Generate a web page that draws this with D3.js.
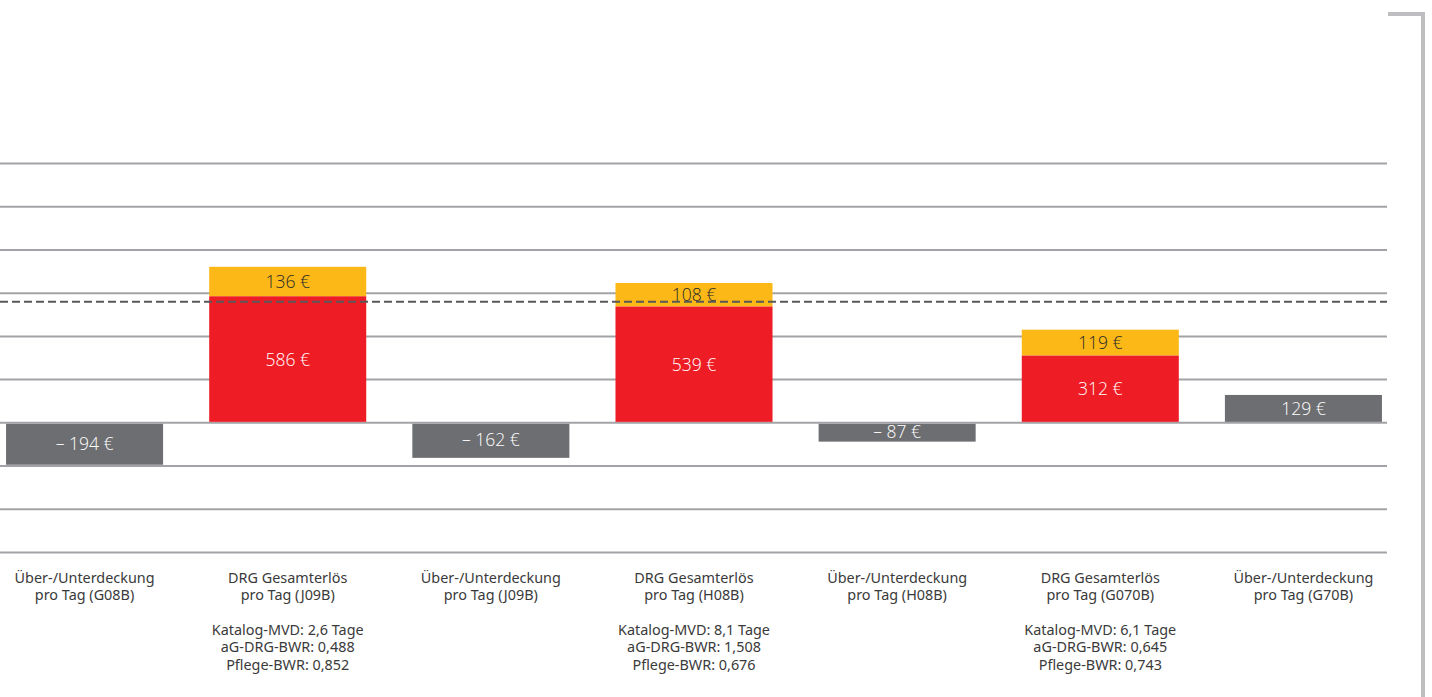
<!DOCTYPE html>
<html>
<head>
<meta charset="utf-8">
<script src="https://cdn.jsdelivr.net/npm/d3@7"></script>
<style>
  html, body { margin: 0; padding: 0; background: #fff; }
  svg { display: block; }
</style>
</head>
<body>
<svg id="chart" width="1432" height="697"></svg>
<script>
// categories (two lines each) and extra info lines under the DRG bars
var categories = [
    ["Über-/Unterdeckung", "pro Tag (G08B)"],
    ["DRG Gesamterlös", "pro Tag (J09B)"],
    ["Über-/Unterdeckung", "pro Tag (J09B)"],
    ["DRG Gesamterlös", "pro Tag (H08B)"],
    ["Über-/Unterdeckung", "pro Tag (H08B)"],
    ["DRG Gesamterlös", "pro Tag (G070B)"],
    ["Über-/Unterdeckung", "pro Tag (G70B)"]
];
var infoLines = [
    [],
    ["Katalog-MVD: 2,6 Tage", "aG-DRG-BWR: 0,488", "Pflege-BWR: 0,852"],
    [],
    ["Katalog-MVD: 8,1 Tage", "aG-DRG-BWR: 1,508", "Pflege-BWR: 0,676"],
    [],
    ["Katalog-MVD: 6,1 Tage", "aG-DRG-BWR: 0,645", "Pflege-BWR: 0,743"],
    []
];

// series values (€ per day)
var drgValues    = [null, 586, null, 539, null, 312, null];
var pflegeValues = [null, 136, null, 108, null, 119, null];
var deckung      = [-194, null, -162, null, -87, null, 129];
var refValue = 560;   // dashed line

var gridTicks = [-600, -400, -200, 0, 200, 400, 600, 800, 1000, 1200];

var svg = d3.select("#chart");

var gridLeft = 0, gridRight = 1387;

var x = d3.scaleBand()
    .domain(d3.range(categories.length))
    .range([-17, 1405])
    .paddingInner(0.227)
    .paddingOuter(0.1135);

var y = d3.scaleLinear()
    .domain([-600, 1200])
    .range([552.5, 163.5]);

// gridlines
svg.append("g")
    .selectAll("line")
    .data(gridTicks).enter().append("line")
        .attr("x1", gridLeft)
        .attr("x2", gridRight)
        .attr("y1", function(d) { return y(d); })
        .attr("y2", function(d) { return y(d); })
        .attr("stroke", "#a3a3a7")
        .attr("stroke-width", 2);

var bars = svg.append("g");

// red DRG part
bars.selectAll(".drg")
    .data(drgValues.map(function(v, i) { return {i: i, v: v}; }).filter(function(d) { return d.v != null; }))
    .enter().append("rect")
        .attr("class", "drg")
        .attr("x", function(d) { return x(d.i); })
        .attr("width", x.bandwidth())
        .attr("y", function(d) { return y(d.v); })
        .attr("height", function(d) { return y(0) - y(d.v) - 1; })
        .attr("fill", "#ee1c25");

// yellow stacked part
bars.selectAll(".pflege")
    .data(pflegeValues.map(function(v, i) { return {i: i, v: v, base: drgValues[i]}; }).filter(function(d) { return d.v != null; }))
    .enter().append("rect")
        .attr("class", "pflege")
        .attr("x", function(d) { return x(d.i); })
        .attr("width", x.bandwidth())
        .attr("y", function(d) { return y(d.base + d.v); })
        .attr("height", function(d) { return y(d.base) - y(d.base + d.v); })
        .attr("fill", "#fbb817");

// grey coverage bars
bars.selectAll(".deckung")
    .data(deckung.map(function(v, i) { return {i: i, v: v}; }).filter(function(d) { return d.v != null; }))
    .enter().append("rect")
        .attr("class", "deckung")
        .attr("x", function(d) { return x(d.i); })
        .attr("width", x.bandwidth())
        .attr("y", function(d) { return d.v < 0 ? y(0) + 1 : y(d.v); })
        .attr("height", function(d) { return Math.abs(y(d.v) - y(0)) - 1; })
        .attr("fill", "#6d6e71");

// value labels
var fmt = function(v) { return (v < 0 ? "\u2013 " + Math.abs(v) : v) + " \u20ac"; };
var labels = [];
drgValues.forEach(function(v, i) {
    if (v != null) labels.push({i: i, v: v, mid: v / 2, color: "#fff"});
});
pflegeValues.forEach(function(v, i) {
    if (v != null) labels.push({i: i, v: v, mid: drgValues[i] + v / 2, color: "#2a2a2a"});
});
deckung.forEach(function(v, i) {
    if (v != null) labels.push({i: i, v: v, mid: v / 2, color: "#fff"});
});

svg.append("g")
    .selectAll("text")
    .data(labels).enter().append("text")
        .attr("x", function(d) { return x(d.i) + x.bandwidth() / 2; })
        .attr("y", function(d) { return y(d.mid); })
        .attr("dy", "0.35em")
        .attr("text-anchor", "middle")
        .attr("font-family", "'Open Sans', sans-serif")
        .attr("font-weight", 300)
        .attr("font-size", 17.5)
        .attr("fill", function(d) { return d.color; })
        .text(function(d) { return fmt(d.v); });

// dashed reference line
svg.append("line")
    .attr("x1", gridLeft)
    .attr("x2", gridRight)
    .attr("y1", y(refValue))
    .attr("y2", y(refValue))
    .attr("stroke", "#58585a")
    .attr("stroke-width", 2)
    .attr("stroke-dasharray", "8,4");

// category labels
var cat = svg.append("g")
    .selectAll("text")
    .data(categories).enter().append("text")
        .attr("x", function(d, i) { return x(i) + x.bandwidth() / 2; })
        .attr("y", 583)
        .attr("text-anchor", "middle")
        .attr("font-family", "'Noto Sans', sans-serif")
        .attr("font-size", 14.4)
        .attr("fill", "#3a3a3a");

cat.each(function(d, i) {
    var t = d3.select(this);
    var lines = d.concat(infoLines[i].length ? [""] : [], infoLines[i]);
    lines.forEach(function(l, k) {
        t.append("tspan")
            .attr("x", x(i) + x.bandwidth() / 2)
            .attr("dy", k === 0 ? 0 : 17.3)
            .text(l === "" ? "\u00a0" : l);
    });
});

// right bracket
svg.append("path")
    .attr("d", "M1388,14 H1423 V697")
    .attr("fill", "none")
    .attr("stroke", "#bebec1")
    .attr("stroke-width", 4);
</script>
</body>
</html>
